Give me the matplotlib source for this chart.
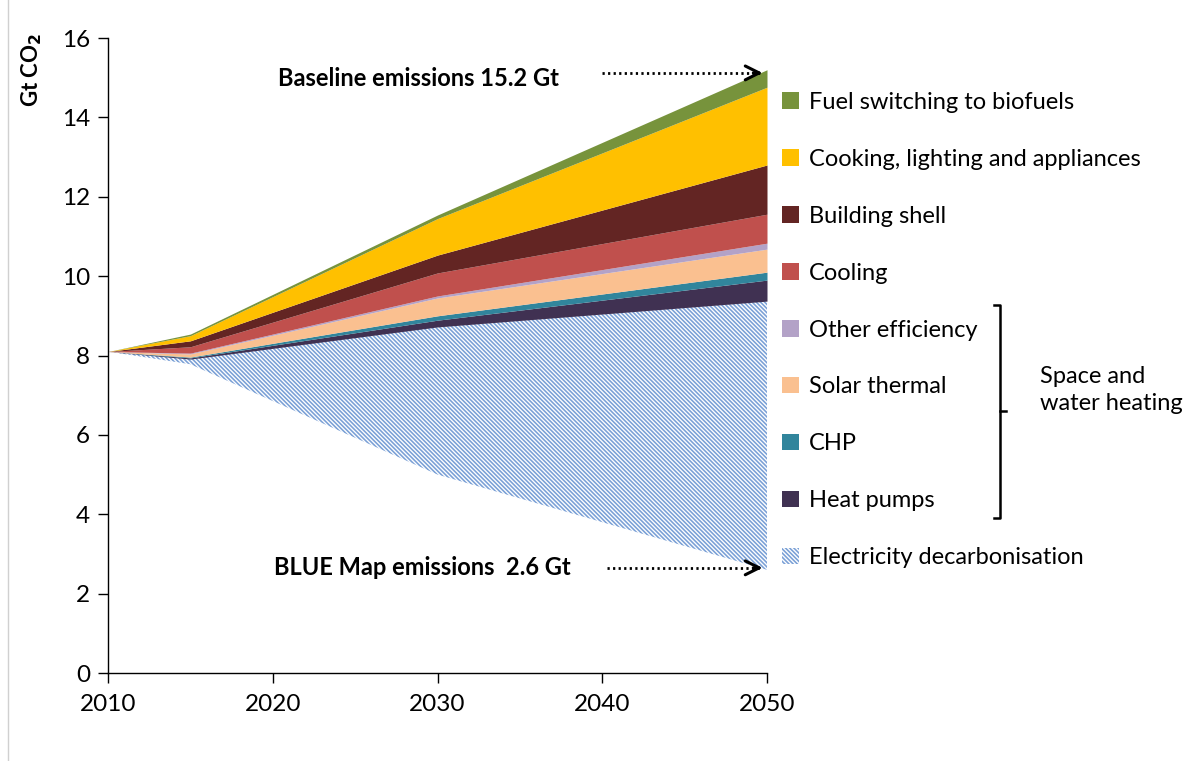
import matplotlib
matplotlib.use("Agg")
import matplotlib.pyplot as plt
from matplotlib.patches import Patch
from matplotlib.lines import Line2D

plt.rcParams['font.family'] = ['Lato', 'DejaVu Sans']
plt.rcParams['hatch.linewidth'] = 1.15

# Buildings sector CO2 emissions, Gt
years = [2010, 2015, 2030, 2050]
blue_map = [8.1, 7.78, 5.0, 2.6]

# wedge thicknesses stacked on top of BLUE Map emissions (bottom to top)
labels = ['Electricity decarbonisation', 'Heat pumps', 'CHP', 'Solar thermal',
          'Other efficiency', 'Cooling', 'Building shell',
          'Cooking, lighting and appliances', 'Fuel switching to biofuels']
elec = [0.0, 0.13, 3.72, 6.77]
heat_pumps = [0.0, 0.03, 0.17, 0.53]
chp = [0.0, 0.02, 0.11, 0.20]
solar = [0.0, 0.08, 0.45, 0.58]
other_eff = [0.0, 0.02, 0.05, 0.15]
cooling = [0.0, 0.16, 0.58, 0.73]
shell = [0.0, 0.15, 0.45, 1.24]
cooking = [0.0, 0.13, 0.92, 1.96]
biofuels = [0.0, 0.04, 0.09, 0.44]

colors = ['#7aa0d6', '#403152', '#31859c', '#fac090', '#b3a2c7',
          '#c0504d', '#632523', '#ffc000', '#77933c']
HATCH = '\\' * 8

fig = plt.figure(figsize=(11.88, 7.61), dpi=100)
ax = fig.add_axes([108 / 1188, 88 / 761, 659 / 1188, 635 / 761])

layers = [elec, heat_pumps, chp, solar, other_eff, cooling, shell, cooking, biofuels]
bottom = list(blue_map)
for i, layer in enumerate(layers):
    top = [b + v for b, v in zip(bottom, layer)]
    if i == 0:
        ax.fill_between(years, bottom, top, facecolor='white', edgecolor=colors[0],
                        hatch=HATCH, linewidth=0)
    else:
        ax.fill_between(years, bottom, top, color=colors[i], linewidth=0)
    bottom = top

ax.set_xlim(2010, 2050)
ax.set_ylim(0, 16)
ax.set_xticks(range(2010, 2051, 10))
ax.set_yticks(range(0, 17, 2))
ax.tick_params(direction='out', length=7, width=1, labelsize=17.5, colors='black', pad=6)
ax.tick_params(axis='x', pad=8)
for s in ['top', 'right']:
    ax.spines[s].set_visible(False)
for s in ['left', 'bottom']:
    ax.spines[s].set_linewidth(1)

fig.text(32 / 1188, 1 - 70 / 761, 'Gt CO$_\\mathbf{2}$', rotation=90, ha='center', va='center',
         fontsize=16, fontweight='bold')

# baseline / BLUE Map annotations
total_2050 = bottom[-1]
ax.text(2020.3, 14.97, 'Baseline emissions %.1f Gt' % total_2050, fontsize=17,
        fontweight='bold', va='center', ha='left')
ax.text(2020.1, 2.65, 'BLUE Map emissions  %.1f Gt' % blue_map[-1], fontsize=17,
        fontweight='bold', va='center', ha='left')
for y0, x0 in [(15.12, 2040.0), (2.65, 2040.3)]:
    ax.plot([x0, 2049.6], [y0, y0], color='black', lw=2, linestyle=(0, (0.8, 1.2)),
            clip_on=False)
    ax.annotate('', xy=(2049.9, y0), xytext=(2049.0, y0),
                arrowprops=dict(arrowstyle='->,head_length=1.0,head_width=0.5',
                                color='black', lw=2.2), annotation_clip=False)

# legend, top entry first
handles = []
for i in reversed(range(len(labels))):
    if i == 0:
        handles.append(Patch(facecolor='white', edgecolor=colors[0], hatch=HATCH,
                             linewidth=0, label=labels[i]))
    else:
        handles.append(Patch(facecolor=colors[i], edgecolor='none', label=labels[i]))
fig.legend(handles=handles, loc='upper left', bbox_to_anchor=(782 / 1188, 1 - 92 / 761),
           frameon=False, fontsize=17, labelspacing=1.52, handlelength=0.7,
           handleheight=0.7, handletextpad=0.45, borderaxespad=0, borderpad=0)

# bracket grouping the space and water heating wedges
bx = 1000 / 1188
yt, yb, ym = 1 - 305 / 761, 1 - 518 / 761, 1 - 411 / 761
hk = 6 / 1188
for xs, ys in [([bx - hk, bx, bx, bx - hk], [yt, yt, yb, yb]), ([bx, bx + hk], [ym, ym])]:
    fig.add_artist(Line2D(xs, ys, color='black', lw=1.8))
fig.text(1040 / 1188, 1 - 390 / 761, 'Space and\nwater heating', fontsize=17,
         ha='left', va='center', linespacing=1.4)

# light frame edge on the left
fig.add_artist(Line2D([8 / 1188, 8 / 1188], [0, 1], color='#d0d0d0', lw=1))

fig.savefig('out.png', dpi=100)
